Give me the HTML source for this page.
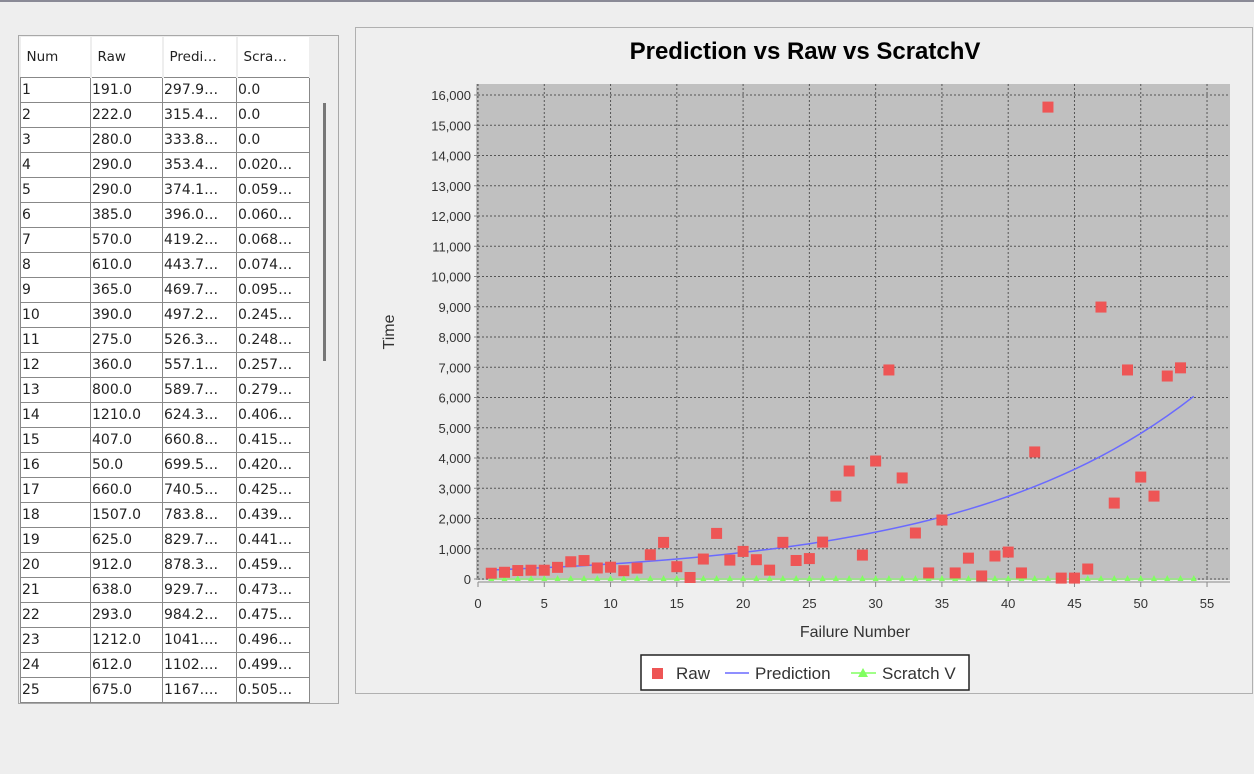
<!DOCTYPE html>
<html><head><meta charset="utf-8">
<style>
body{margin:0;width:1254px;height:774px;background:#eeeeee;font-family:"Liberation Sans",sans-serif;overflow:hidden;position:relative}
.topline{position:absolute;left:0;top:0;width:1254px;height:2px;background:#8a8a96}
.leftpanel{position:absolute;left:18px;top:35px;width:319px;height:667px;border:1px solid #a8a8a8;background:#eeeeee;overflow:hidden}
table{position:absolute;left:1px;top:1px;border-collapse:collapse;table-layout:fixed;width:289px;font-size:14px;font-family:"DejaVu Sans","Liberation Sans",sans-serif;color:#222}
th{height:38px;font-weight:normal;background:#fff;text-align:left;padding-left:6px;font-size:13.5px;border-right:2px solid #eee;overflow:hidden;white-space:nowrap}
td{height:24px;background:#fff;border:1px solid #888;padding:0 1px;white-space:nowrap;overflow:hidden}
.scroll{position:absolute;left:304px;top:67px;width:3px;height:258px;background:#777}
.chartpanel{position:absolute;left:355px;top:27px;width:896px;height:665px;border:1px solid #b0b0b0;background:#efefef}
</style></head><body>
<div class="topline"></div>
<div class="leftpanel">
<table>
<colgroup><col style="width:70px"><col style="width:72px"><col style="width:74px"><col style="width:73px"></colgroup>
<thead><tr><th>Num</th><th>Raw</th><th>Predi…</th><th>Scra…</th></tr></thead>
<tbody id="tb"></tbody></table>
<div class="scroll"></div>
</div>
<div class="chartpanel"></div>
<svg id="chart" width="1254" height="774" style="position:absolute;left:0;top:0"></svg>
<script>
const rows=[["1","191.0","297.9…","0.0"],["2","222.0","315.4…","0.0"],["3","280.0","333.8…","0.0"],["4","290.0","353.4…","0.020…"],["5","290.0","374.1…","0.059…"],["6","385.0","396.0…","0.060…"],["7","570.0","419.2…","0.068…"],["8","610.0","443.7…","0.074…"],["9","365.0","469.7…","0.095…"],["10","390.0","497.2…","0.245…"],["11","275.0","526.3…","0.248…"],["12","360.0","557.1…","0.257…"],["13","800.0","589.7…","0.279…"],["14","1210.0","624.3…","0.406…"],["15","407.0","660.8…","0.415…"],["16","50.0","699.5…","0.420…"],["17","660.0","740.5…","0.425…"],["18","1507.0","783.8…","0.439…"],["19","625.0","829.7…","0.441…"],["20","912.0","878.3…","0.459…"],["21","638.0","929.7…","0.473…"],["22","293.0","984.2…","0.475…"],["23","1212.0","1041.…","0.496…"],["24","612.0","1102.…","0.499…"],["25","675.0","1167.…","0.505…"]];
const tb=document.getElementById('tb');
rows.forEach(r=>{const tr=document.createElement('tr');


r.forEach(c=>{const td=document.createElement('td');td.textContent=c;tr.appendChild(td);});tb.appendChild(tr);});

const rawValues=[191,222,280,290,290,385,570,610,365,390,275,360,800,1210,407,50,660,1507,625,912,638,293,1212,612,675,1220,2740,3570,790,3900,6910,3340,1520,200,1950,200,690,100,760,890,200,4200,15600,30,30,330,8990,2510,6910,3370,2740,6710,6980];
const predValues=[297.9,315.4,333.8,353.4,374.1,396.0,419.2,443.7,469.7,497.2,526.3,557.1,589.7,624.3,660.8,699.5,740.5,783.8,829.7,878.3,929.7,984.2,1041,1102,1167,1235,1307,1383,1464,1549,1640,1735,1836,1943,2057,2177,2304,2438,2580,2731,2890,3059,3237,3426,3626,3837,4061,4298,4548,4814,5094,5392,5706,6039];
const scratchValues=[0,0,0,0.02,0.059,0.06,0.068,0.074,0.095,0.245,0.248,0.257,0.279,0.406,0.415,0.42,0.425,0.439,0.441,0.459,0.473,0.475,0.496,0.499,0.505,0.51,0.52,0.53,0.54,0.55,0.56,0.57,0.58,0.59,0.6,0.61,0.62,0.63,0.64,0.65,0.66,0.67,0.68,0.69,0.7,0.71,0.72,0.73,0.74,0.75,0.76,0.77,0.78,0.79];
const yTicks=[0,1000,2000,3000,4000,5000,6000,7000,8000,9000,10000,11000,12000,13000,14000,15000,16000];
const xTicks=[0,5,10,15,20,25,30,35,40,45,50,55];

const svg=document.getElementById('chart');const NS='http://www.w3.org/2000/svg';
function el(t,a,p){const e=document.createElementNS(NS,t);for(const k in a)e.setAttribute(k,a[k]);(p||svg).appendChild(e);return e;}
const X=v=>478+v*13.255, Y=v=>579-v*0.03025;
const PL=478,PR=1230,PT=84,PB=580;
const bg=el('rect',{x:PL,y:PT,width:PR-PL,height:PB-PT,fill:'#c0c0c0'});


yTicks.forEach(v=>{
 const g=el('line',{x1:PL,x2:PR,y1:Y(v),y2:Y(v),stroke:'#555','stroke-dasharray':'2,2','stroke-width':1});
 
 
 el('line',{x1:PL-4,x2:PL,y1:Y(v),y2:Y(v),stroke:'#888'});
 const t=el('text',{x:PL-7,y:Y(v)+5,'text-anchor':'end','font-size':13,fill:'#333'});t.textContent=v.toLocaleString('en-US');
 
 
});
xTicks.forEach(v=>{
 const g=el('line',{x1:X(v),x2:X(v),y1:PT,y2:PB,stroke:'#555','stroke-dasharray':'2,2','stroke-width':1});
 
 
 el('line',{x1:X(v),x2:X(v),y1:PB+2,y2:PB+7,stroke:'#888'});
 const t=el('text',{x:X(v),y:608,'text-anchor':'middle','font-size':13,fill:'#333'});t.textContent=v;
 
 
});
el('line',{x1:PL-1,x2:PL-1,y1:PT,y2:PB,stroke:'#888'});
el('line',{x1:PL,x2:PR,y1:PB+2,y2:PB+2,stroke:'#888'});
scratchValues.forEach((v,i)=>{const x=X(i+1),y=Y(v);
 const p=el('polygon',{points:`${x-3},${y+2} ${x+3},${y+2} ${x},${y-4}`,fill:'#80ff60'});
 
 
});
el('line',{x1:X(1),x2:X(54),y1:Y(0),y2:Y(0),stroke:'#80ff60','stroke-width':1});
const pl=el('polyline',{points:predValues.map((v,i)=>X(i+1)+','+Y(v)).join(' '),fill:'none',stroke:'#6a6aff','stroke-width':1.5});


rawValues.forEach((v,i)=>{
 const r=el('rect',{x:X(i+1)-5.5,y:Y(v)-5.5,width:11,height:11,fill:'#ee5555'});
 
 
});
let t=el('text',{x:805,y:59,'text-anchor':'middle','font-size':24,'font-weight':'bold',fill:'#000'});t.textContent='Prediction vs Raw vs ScratchV';


t=el('text',{x:855,y:637,'text-anchor':'middle','font-size':16,fill:'#333'});t.textContent='Failure Number';


t=el('text',{x:394,y:332,'text-anchor':'middle','font-size':16,fill:'#333',transform:'rotate(-90 394 332)'});t.textContent='Time';


const lg=el('rect',{x:641,y:655,width:328,height:35,fill:'#fff',stroke:'#222','stroke-width':1.5});


el('rect',{x:652,y:668,width:11,height:11,fill:'#ee5555'});
t=el('text',{x:676,y:679,'font-size':17,fill:'#333'});t.textContent='Raw';


el('line',{x1:725,x2:749,y1:673,y2:673,stroke:'#6a6aff','stroke-width':1.5});
t=el('text',{x:755,y:679,'font-size':17,fill:'#333'});t.textContent='Prediction';


el('line',{x1:851,x2:876,y1:673,y2:673,stroke:'#80ff60','stroke-width':1.5});
el('polygon',{points:'858,677 868,677 863,668',fill:'#80ff60'});
t=el('text',{x:882,y:679,'font-size':17,fill:'#333'});t.textContent='Scratch V';


</script>
</body></html>
